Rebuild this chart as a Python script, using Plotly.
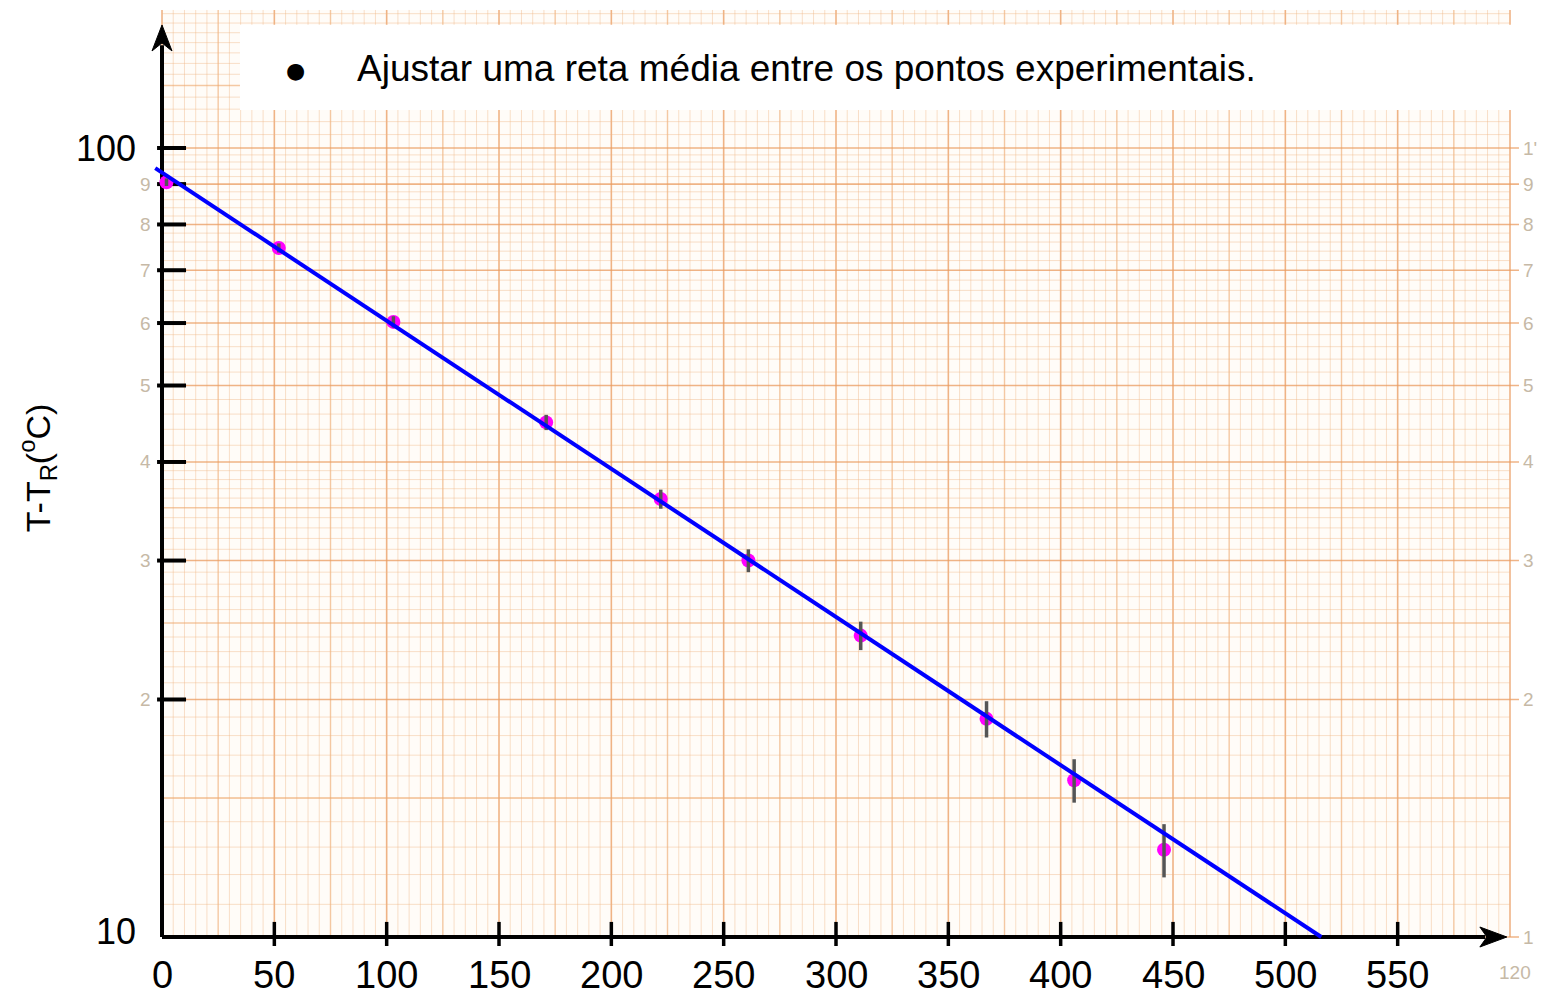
import math
import plotly.graph_objects as go

# ---------------- data ----------------
time_s = [2, 52, 103, 171, 222, 261, 311, 367, 406, 446]
temp_diff = [90.5, 74.7, 60.2, 44.9, 35.9, 30.0, 24.1, 18.9, 15.8, 12.9]
temp_err = [1, 1, 1, 1, 1, 1, 1, 1, 1, 1]

fit_time = [-3, 516]
fit_temp = [94.3, 10.0]

x_tick_vals = [0, 50, 100, 150, 200, 250, 300, 350, 400, 450, 500, 550]
x_tick_text = ["0", "50", "100", "150", "200", "250", "300", "350", "400", "450", "500", "550"]
y_tick_vals = [20, 30, 40, 50, 60, 70, 80, 90, 100]
y_label_vals = [10.15, 100]
y_label_text = ["10", "100"]

paper_label_vals = [10, 20, 30, 40, 50, 60, 70, 80, 90, 100]
paper_right_text = ["1", "2", "3", "4", "5", "6", "7", "8", "9", "1'"]
paper_left_text = ["1", "2", "3", "4", "5", "6", "7", "8", "9", ""]

note_text = "Ajustar uma reta média entre os pontos experimentais."
y_title = "T-T<sub>R</sub>(<sup>o</sup>C)"

# ---------------- geometry helpers ----------------
X_MIN, X_MAX = -72.107, 616.02
Y_MIN, Y_MAX = 0.92015, 2.18758
PAPER_X0, PAPER_X1 = 0, 600
PAPER_Y0, PAPER_Y1 = 10, 149.6

FONT = "Liberation Sans, Arial, sans-serif"

fig = go.Figure()

# ---------------- graph paper ----------------
def vlines(xs):
    X, Y = [], []
    for x in xs:
        X += [x, x, None]
        Y += [PAPER_Y0, PAPER_Y1, None]
    return X, Y

def hlines(ys, x1=PAPER_X1):
    X, Y = [], []
    for y in ys:
        X += [PAPER_X0, x1, None]
        Y += [y, y, None]
    return X, Y

v_fine = [x for x in range(0, 601, 5) if x % 25 != 0]
v_med = [x for x in range(0, 601, 25) if x % 50 != 0]
v_major = [x for x in range(0, 601, 50)]

h_fine = [v for v in range(11, 20)] + [v for v in range(21, 40) if v % 5 != 0] + \
         [v for v in range(42, 100, 2) if v % 10 != 0] + [v for v in range(104, 150, 4) if v != 120]
h_med = [15, 25, 35, 120]
h_major = [10, 20, 30, 40, 50, 60, 70, 80, 90, 100]

fine_col = "rgba(238,180,130,0.42)"
med_col = "rgba(236,165,105,0.6)"
major_col = "rgba(234,155,95,0.75)"

for xs, col, w in [(v_fine, fine_col, 1), (v_med, med_col, 1.4), (v_major, major_col, 1.6)]:
    X, Y = vlines(xs)
    fig.add_trace(go.Scatter(x=X, y=Y, mode="lines", line=dict(color=col, width=w),
                             hoverinfo="skip", showlegend=False))
for ys, col, w, x1 in [(h_fine, fine_col, 1, PAPER_X1), (h_med, med_col, 1.4, PAPER_X1),
                       (h_major, major_col, 1.6, 604)]:
    X, Y = hlines(ys, x1)
    fig.add_trace(go.Scatter(x=X, y=Y, mode="lines", line=dict(color=col, width=w),
                             hoverinfo="skip", showlegend=False))

# ---------------- axes (black) ----------------
fig.add_trace(go.Scatter(x=[0, 0, None, 0, 589], y=[10, 135, None, 10, 10], mode="lines",
                         line=dict(color="black", width=4), hoverinfo="skip", showlegend=False))
tx, ty = [], []
for v in x_tick_vals[1:]:
    tx += [v, v, None]
    ty += [9.74, 10.45, None]
fig.add_trace(go.Scatter(x=tx, y=ty, mode="lines", line=dict(color="black", width=3.5),
                         hoverinfo="skip", showlegend=False))
tx, ty = [], []
for v in y_tick_vals:
    tx += [-2.2, 10.7, None]
    ty += [v, v, None]
fig.add_trace(go.Scatter(x=tx, y=ty, mode="lines", line=dict(color="black", width=4),
                         hoverinfo="skip", showlegend=False))

# ---------------- data ----------------
fig.add_trace(go.Scatter(x=time_s, y=temp_diff, mode="markers",
                         marker=dict(color="#ff00ff", size=14), showlegend=False))
fig.add_trace(go.Scatter(x=time_s, y=temp_diff, mode="markers",
                         marker=dict(color="rgba(0,0,0,0)", size=1),
                         error_y=dict(type="data", array=temp_err, color="#555555",
                                      thickness=3.5, width=0),
                         showlegend=False))
fig.add_trace(go.Scatter(x=fit_time, y=fit_temp, mode="lines",
                         line=dict(color="#0000ff", width=4), showlegend=False))

# ---------------- shapes ----------------
shapes = [
    dict(type="rect", xref="x", yref="y", x0=PAPER_X0, x1=PAPER_X1, y0=PAPER_Y0, y1=PAPER_Y1,
         fillcolor="#fffcf8", line=dict(width=0), layer="below"),
    # white note box
    dict(type="rect", xref="x", yref="y", x0=34.7, x1=X_MAX, y0=111.7, y1=143.3,
         fillcolor="white", line=dict(width=0), layer="above"),
    # y arrowhead
    dict(type="path", xref="x", yref="y", xsizemode="pixel", ysizemode="pixel",
         xanchor=0, yanchor=143.2, path="M 0 0 L 10 -26 L 0 -18 L -10 -26 Z",
         fillcolor="black", line=dict(color="black", width=1), layer="above"),
    # x arrowhead
    dict(type="path", xref="x", yref="y", xsizemode="pixel", ysizemode="pixel",
         xanchor=598.6, yanchor=10, path="M 0 0 L -27 10 L -20 0 L -27 -10 Z",
         fillcolor="black", line=dict(color="black", width=1), layer="above"),
]

# ---------------- annotations ----------------
ann = []
for v, t in zip(x_tick_vals, x_tick_text):
    ann.append(dict(x=v, y=1 - 38 / 789, xref="x", yref="y", text=t, showarrow=False,
                    xanchor="center", yanchor="middle", font=dict(size=38, color="black", family=FONT)))
for v, t in zip(y_label_vals, y_label_text):
    ann.append(dict(x=-10.5, y=math.log10(v), xref="x", yref="y", text=t, showarrow=False,
                    xanchor="right", yanchor="middle", font=dict(size=36, color="black", family=FONT)))
faint = "#c6b9a6"
for v, t in zip(paper_label_vals, paper_right_text):
    ann.append(dict(x=605, y=math.log10(v), xref="x", yref="y", text=t, showarrow=False,
                    xanchor="left", yanchor="middle", font=dict(size=19, color=faint, family=FONT)))
for v, t in zip(paper_label_vals, paper_left_text):
    if t and v > 10:
        ann.append(dict(x=-4, y=math.log10(v), xref="x", yref="y", text=t, showarrow=False,
                        xanchor="right", yanchor="middle", font=dict(size=19, color=faint, family=FONT)))
ann.append(dict(x=602, y=1 - 35 / 789, xref="x", yref="y", text="120", showarrow=False,
                xanchor="center", yanchor="middle", font=dict(size=19, color=faint, family=FONT)))
ann.append(dict(x=-55.5, y=1 + (937 - 468) / 789, xref="x", yref="y", text=y_title, showarrow=False,
                textangle=-90, xanchor="center", yanchor="middle",
                font=dict(size=34, color="black", family=FONT)))
ann.append(dict(x=(295 - 162) / 2.24667, y=1 + (937 - 70) / 789, xref="x", yref="y", text="●",
                showarrow=False, xanchor="center", yanchor="middle",
                font=dict(size=22, color="black", family="DejaVu Sans")))
ann.append(dict(x=(355 - 162) / 2.24667, y=1 + (937 - 68) / 789, xref="x", yref="y", text=note_text,
                showarrow=False, xanchor="left", yanchor="middle",
                font=dict(size=37, color="black", family=FONT)))

fig.update_layout(
    width=1546, height=1000,
    margin=dict(l=0, r=0, t=0, b=0),
    paper_bgcolor="white", plot_bgcolor="white",
    xaxis=dict(range=[X_MIN, X_MAX], visible=False, fixedrange=True),
    yaxis=dict(type="log", range=[Y_MIN, Y_MAX], visible=False, fixedrange=True),
    shapes=shapes, annotations=ann, showlegend=False,
)

fig.write_html("out.html")
